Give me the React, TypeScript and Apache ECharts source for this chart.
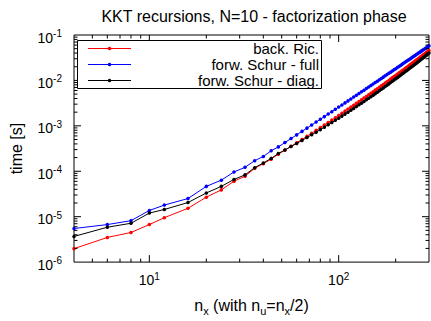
import React, { useEffect, useRef } from "react";
import * as echarts from "echarts";

// n_x values (horizontal axis)
const nx = [
  4, 6, 8, 10, 12, 16, 20, 24, 28, 32, 36, 40, 44, 48, 52, 56, 60, 64, 68, 72,
  76, 80, 84, 88, 92, 96, 100, 104, 108, 112, 116, 120, 124, 128, 132, 136, 140,
  144, 148, 152, 156, 160, 164, 168, 172, 176, 180, 184, 188, 192, 196, 200, 204,
  208, 212, 216, 220, 224, 228, 232, 236, 240, 244, 248, 252, 256, 260, 264, 268,
  272, 276, 280, 284, 288, 292, 296, 300,
];

// time [s] - back. Ric.
const backRic = [
  1.98e-6, 3.49e-6, 4.49e-6, 6.7e-6, 9.51e-6, 1.53e-5, 2.69e-5, 3.89e-5, 6.03e-5,
  7.78e-5, 1.16e-4, 1.47e-4, 1.85e-4, 2.38e-4, 2.92e-4, 3.54e-4, 4.24e-4, 5.02e-4,
  5.9e-4, 6.88e-4, 7.96e-4, 9.15e-4, 1.046e-3, 1.189e-3, 1.344e-3, 1.514e-3,
  1.697e-3, 1.894e-3, 2.107e-3, 2.337e-3, 2.584e-3, 2.846e-3, 3.127e-3, 3.427e-3,
  3.747e-3, 4.085e-3, 4.446e-3, 4.831e-3, 5.235e-3, 5.658e-3, 6.111e-3, 6.589e-3,
  7.089e-3, 7.618e-3, 8.173e-3, 8.758e-3, 9.371e-3, 1.001e-2, 1.069e-2, 1.139e-2,
  1.213e-2, 1.289e-2, 1.369e-2, 1.454e-2, 1.54e-2, 1.632e-2, 1.726e-2, 1.824e-2,
  1.926e-2, 2.034e-2, 2.144e-2, 2.259e-2, 2.379e-2, 2.503e-2, 2.63e-2, 2.762e-2,
  2.901e-2, 3.043e-2, 3.189e-2, 3.343e-2, 3.5e-2, 3.664e-2, 3.832e-2, 3.995e-2,
  4.185e-2, 4.37e-2, 4.559e-2,
];

// time [s] - forw. Schur - full
const schurFull = [
  5.48e-6, 6.7e-6, 8.18e-6, 1.37e-5, 1.8e-5, 2.51e-5, 4.65e-5, 6.37e-5, 9.66e-5,
  1.22e-4, 1.71e-4, 2.12e-4, 2.82e-4, 3.44e-4, 4.28e-4, 5.24e-4, 6.33e-4, 7.55e-4,
  8.91e-4, 1.043e-3, 1.21e-3, 1.395e-3, 1.596e-3, 1.814e-3, 2.052e-3, 2.31e-3,
  2.587e-3, 2.884e-3, 3.203e-3, 3.545e-3, 3.912e-3, 4.299e-3, 4.711e-3, 5.149e-3,
  5.614e-3, 6.102e-3, 6.62e-3, 7.168e-3, 7.741e-3, 8.34e-3, 8.975e-3, 9.638e-3,
  1.033e-2, 1.106e-2, 1.182e-2, 1.262e-2, 1.345e-2, 1.431e-2, 1.521e-2, 1.614e-2,
  1.712e-2, 1.812e-2, 1.917e-2, 2.027e-2, 2.138e-2, 2.257e-2, 2.377e-2, 2.501e-2,
  2.63e-2, 2.765e-2, 2.902e-2, 3.046e-2, 3.193e-2, 3.345e-2, 3.501e-2, 3.662e-2,
  3.829e-2, 3.999e-2, 4.175e-2, 4.358e-2, 4.543e-2, 4.736e-2, 4.931e-2, 5.133e-2,
  5.341e-2, 5.552e-2, 5.77e-2,
];

// time [s] - forw. Schur - diag.
const schurDiag = [
  3.67e-6, 5.86e-6, 7.16e-6, 1.2e-5, 1.44e-5, 2.05e-5, 3.33e-5, 4.65e-5, 6.61e-5,
  8.32e-5, 1.2e-4, 1.52e-4, 1.92e-4, 2.46e-4, 2.94e-4, 3.49e-4, 4.1e-4, 4.77e-4,
  5.52e-4, 6.35e-4, 7.26e-4, 8.26e-4, 9.35e-4, 1.053e-3, 1.182e-3, 1.323e-3,
  1.474e-3, 1.637e-3, 1.812e-3, 2.0e-3, 2.204e-3, 2.42e-3, 2.651e-3, 2.898e-3,
  3.163e-3, 3.442e-3, 3.74e-3, 4.058e-3, 4.392e-3, 4.745e-3, 5.12e-3, 5.518e-3,
  5.936e-3, 6.38e-3, 6.842e-3, 7.333e-3, 7.85e-3, 8.389e-3, 8.962e-3, 9.555e-3,
  1.018e-2, 1.083e-2, 1.152e-2, 1.224e-2, 1.299e-2, 1.378e-2, 1.459e-2, 1.544e-2,
  1.633e-2, 1.727e-2, 1.822e-2, 1.923e-2, 2.028e-2, 2.138e-2, 2.251e-2, 2.368e-2,
  2.492e-2, 2.618e-2, 2.749e-2, 2.887e-2, 3.029e-2, 3.177e-2, 3.328e-2, 3.486e-2,
  3.65e-2, 3.818e-2, 3.993e-2,
];

const seriesNames = ["back. Ric.", "forw. Schur - full", "forw. Schur - diag."];
const seriesColors = ["#ff0000", "#0000ff", "#000000"];
const seriesValues = [backRic, schurFull, schurDiag];

const titleText = "KKT recursions, N=10 - factorization phase";
const yAxisTitle = "time [s]";
const xAxisTitle = "n{sub|x} (with n{sub|u}=n{sub|x}/2)";

// axis ranges and tick positions
const X_MIN = 4;
const X_MAX = 300;
const Y_MIN = 1e-6;
const Y_MAX = 1e-1;
const xMajorTicks = [10, 100];
const xMinorTicks = [5, 6, 7, 8, 9, 20, 30, 40, 50, 60, 70, 80, 90, 200];
const yMajorTicks = [1e-5, 1e-4, 1e-3, 1e-2];
const yDecades = [1e-6, 1e-5, 1e-4, 1e-3, 1e-2];
const yMinorMantissas = [2, 3, 4, 5, 6, 7, 8, 9];

const FONT = "'Liberation Sans', Arial, Helvetica, sans-serif";

export default function App() {
  const ref = useRef<HTMLDivElement>(null);

  useEffect(() => {
    if (!ref.current) return;
    const chart = echarts.init(ref.current, undefined, { renderer: "svg" });

    const MAJOR_LEN = 7;
    const MINOR_LEN = 3.5;
    const yMinorTicks: number[] = [];
    yDecades.forEach((d) => yMinorMantissas.forEach((m) => yMinorTicks.push(m * d)));

    const xTickData = [
      ...xMajorTicks.map((v) => [v, Y_MIN, MAJOR_LEN]),
      ...xMinorTicks.map((v) => [v, Y_MIN, MINOR_LEN]),
    ];
    const yTickData = [
      ...yMajorTicks.map((v) => [X_MIN, v, MAJOR_LEN]),
      ...yMinorTicks.map((v) => [X_MIN, v, MINOR_LEN]),
    ];

    const powLabel = (v: number) => "10{sup|" + Math.round(Math.log10(v)) + "}";
    const labelRich = {
      sup: { fontSize: 10, lineHeight: 10, verticalAlign: "top", fontFamily: FONT, color: "#000" },
    };

    const rowY = [48.5, 64.5, 80.5];
    const legendGraphics: any[] = [
      {
        type: "rect",
        z: 20,
        shape: { x: 77.5, y: 40.5, width: 244, height: 48 },
        style: { fill: "#fff", stroke: "#000", lineWidth: 1 },
      },
    ];
    seriesNames.forEach((name, i) => {
      legendGraphics.push({
        type: "line",
        z: 21,
        shape: { x1: 88, y1: rowY[i], x2: 131, y2: rowY[i] },
        style: { stroke: seriesColors[i], lineWidth: 1 },
      });
      legendGraphics.push({
        type: "circle",
        z: 22,
        shape: { cx: 109.5, cy: rowY[i], r: 1.8 },
        style: { fill: seriesColors[i] },
      });
      legendGraphics.push({
        type: "text",
        z: 22,
        x: 319,
        y: rowY[i],
        style: {
          text: name,
          align: "right",
          verticalAlign: "middle",
          fontSize: 15,
          fontFamily: FONT,
          fill: "#000",
        },
      });
    });

    const option: any = {
      animation: false,
      backgroundColor: "#fff",
      title: {
        text: titleText,
        left: 249,
        top: 3,
        textAlign: "center",
        textStyle: { fontSize: 16, fontWeight: "normal", fontFamily: FONT, color: "#000" },
      },
      grid: {
        left: 69,
        right: 2,
        top: 35,
        bottom: 56,
        show: true,
        borderColor: "#000",
        borderWidth: 1,
        backgroundColor: "transparent",
      },
      xAxis: {
        type: "log",
        logBase: 10,
        min: X_MIN,
        max: X_MAX,
        axisLine: { show: false },
        axisTick: { show: false },
        splitLine: { show: false },
        axisLabel: {
          showMinLabel: false,
          showMaxLabel: false,
          margin: 9,
          fontSize: 14,
          lineHeight: 18,
          fontFamily: FONT,
          color: "#000",
          formatter: powLabel,
          rich: labelRich,
        },
        name: xAxisTitle,
        nameLocation: "middle",
        nameGap: 31,
        nameTextStyle: {
          fontSize: 16,
          lineHeight: 22,
          fontFamily: FONT,
          color: "#000",
          rich: {
            sub: { fontSize: 11, lineHeight: 12, verticalAlign: "bottom", fontFamily: FONT, color: "#000" },
          },
        },
      },
      yAxis: {
        type: "log",
        logBase: 10,
        min: Y_MIN,
        max: Y_MAX,
        axisLine: { show: false },
        axisTick: { show: false },
        splitLine: { show: false },
        axisLabel: {
          margin: 12,
          fontSize: 14,
          lineHeight: 18,
          padding: [5, 0, 0, 0],
          fontFamily: FONT,
          color: "#000",
          formatter: powLabel,
          rich: labelRich,
        },
        name: yAxisTitle,
        nameLocation: "middle",
        nameGap: 50,
        nameTextStyle: { fontSize: 16, fontFamily: FONT, color: "#000" },
      },
      series: [
        ...seriesNames.map((name, i) => ({
          type: "line",
          name,
          data: nx.map((x, k) => [x, seriesValues[i][k]]),
          symbol: "circle",
          symbolSize: 3.5,
          showSymbol: true,
          showAllSymbol: true,
          lineStyle: { color: seriesColors[i], width: 1 },
          itemStyle: { color: seriesColors[i] },
          z: 3 + i,
        })),
        {
          type: "custom",
          name: "x ticks",
          silent: true,
          z: 10,
          encode: { x: 0, y: 1 },
          data: xTickData,
          renderItem: (_params: any, api: any) => {
            const v = api.value(0);
            const len = api.value(2);
            const b = api.coord([v, Y_MIN]);
            const t = api.coord([v, Y_MAX]);
            return {
              type: "group",
              children: [
                { type: "line", shape: { x1: b[0], y1: b[1], x2: b[0], y2: b[1] - len }, style: { stroke: "#000", lineWidth: 1 } },
                { type: "line", shape: { x1: t[0], y1: t[1], x2: t[0], y2: t[1] + len }, style: { stroke: "#000", lineWidth: 1 } },
              ],
            };
          },
        },
        {
          type: "custom",
          name: "y ticks",
          silent: true,
          z: 10,
          encode: { x: 0, y: 1 },
          data: yTickData,
          renderItem: (_params: any, api: any) => {
            const v = api.value(1);
            const len = api.value(2);
            const l = api.coord([X_MIN, v]);
            const r = api.coord([X_MAX, v]);
            return {
              type: "group",
              children: [
                { type: "line", shape: { x1: l[0], y1: l[1], x2: l[0] + len, y2: l[1] }, style: { stroke: "#000", lineWidth: 1 } },
                { type: "line", shape: { x1: r[0], y1: r[1], x2: r[0] - len, y2: r[1] }, style: { stroke: "#000", lineWidth: 1 } },
              ],
            };
          },
        },
      ],
      graphic: legendGraphics,
    };

    chart.setOption(option);
    return () => chart.dispose();
  }, []);

  return (
    <div
      ref={ref}
      style={{ position: "fixed", left: 0, top: 0, width: 431, height: 321, background: "#fff" }}
    />
  );
}
